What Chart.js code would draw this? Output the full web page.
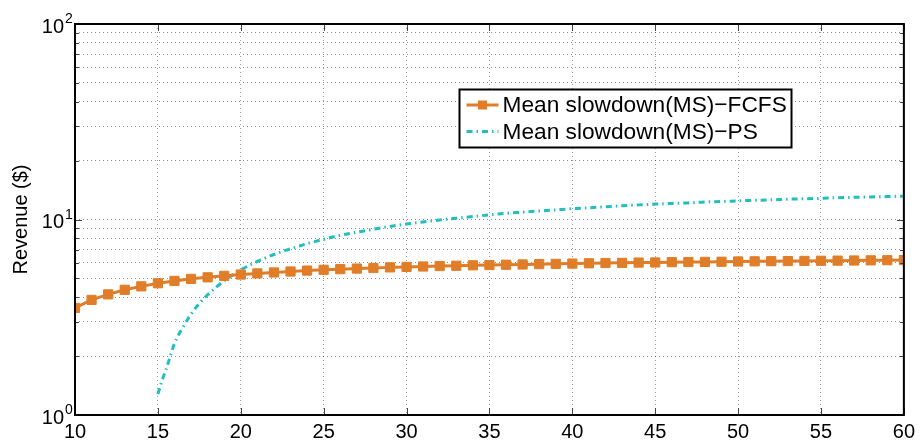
<!DOCTYPE html>
<html>
<head>
<meta charset="utf-8">
<script src="https://cdn.jsdelivr.net/npm/chart.js@4.4.0/dist/chart.umd.min.js"></script>
<style>
  html, body { margin: 0; padding: 0; background: #fff; }
  #wrap { width: 920px; height: 446px; }
</style>
</head>
<body>
<div id="wrap"><canvas id="revenueChart" width="920" height="446"></canvas></div>
<script>
// x 값 (10 ~ 60)
const loadValues = [10, 11, 12, 13, 14, 15, 16, 17, 18, 19, 20, 21, 22, 23, 24, 25, 26, 27, 28, 29, 30,
  31, 32, 33, 34, 35, 36, 37, 38, 39, 40, 41, 42, 43, 44, 45, 46, 47, 48, 49, 50,
  51, 52, 53, 54, 55, 56, 57, 58, 59, 60];
// FCFS 값
const fcfsValues = [3.53, 3.88, 4.14, 4.37, 4.55, 4.72, 4.85, 4.97, 5.06, 5.15, 5.23, 5.30, 5.36, 5.42, 5.48,
  5.53, 5.57, 5.61, 5.65, 5.69, 5.72, 5.75, 5.78, 5.80, 5.83, 5.85, 5.87, 5.89, 5.91, 5.93, 5.95,
  5.97, 5.99, 6.00, 6.02, 6.03, 6.05, 6.06, 6.07, 6.08, 6.10, 6.11, 6.12, 6.13, 6.14, 6.15,
  6.16, 6.17, 6.18, 6.19, 6.20];
// PS 값 (15부터 시작)
const psLoad = [15, 15.25, 15.5, 15.75, 16, 16.5, 17, 17.5, 18, 18.5, 19, 19.5, 20, 21, 22, 23, 24, 25,
  26, 27, 28, 29, 30, 31, 32, 33, 34, 35, 36, 37, 38, 39, 40, 41, 42, 43, 44, 45, 46, 47, 48, 49, 50,
  51, 52, 53, 54, 55, 56, 57, 58, 59, 60];
const psValues = [1.28, 1.50, 1.72, 2.00, 2.32, 2.80, 3.28, 3.72, 4.12, 4.50, 4.86, 5.20, 5.53, 6.10, 6.62,
  7.08, 7.52, 7.92, 8.30, 8.61, 8.92, 9.22, 9.48, 9.72, 9.93, 10.16, 10.35, 10.56, 10.76, 10.90,
  11.05, 11.20, 11.36, 11.48, 11.62, 11.75, 11.88, 11.99, 12.09, 12.16, 12.30, 12.36, 12.46,
  12.53, 12.61, 12.70, 12.77, 12.83, 12.93, 12.98, 13.04, 13.10, 13.16];
const yTickValues = [1, 2, 3, 4, 5, 6, 7, 8, 9, 10, 20, 30, 40, 50, 60, 70, 80, 90, 100];
const yMajorValues = [1, 10, 100];
const yExponents = ['0', '1', '2'];
const seriesLabels = ['Mean slowdown(MS)\u2212FCFS', 'Mean slowdown(MS)\u2212PS'];

const FONT = '"Liberation Sans", Arial, Helvetica, sans-serif';
const ORANGE = '#E07D28';
const CYAN = '#22BEBE';

// 테두리, 안쪽 눈금, y축 라벨, 범례 그리기
const framePlugin = {
  id: 'framePlugin',
  afterDraw(chart) {
    const ctx = chart.ctx;
    const area = chart.chartArea;
    const xScale = chart.scales.x;
    const yScale = chart.scales.y;
    ctx.save();

    // 안쪽 눈금
    ctx.strokeStyle = '#444';
    ctx.lineWidth = 1;
    ctx.beginPath();
    xScale.ticks.forEach(t => {
      const px = Math.round(xScale.getPixelForValue(t.value)) + 0.5;
      ctx.moveTo(px, area.bottom); ctx.lineTo(px, area.bottom - 7);
      ctx.moveTo(px, area.top); ctx.lineTo(px, area.top + 7);
    });
    yScale.ticks.forEach(t => {
      const py = Math.round(yScale.getPixelForValue(t.value)) + 0.5;
      const len = yMajorValues.includes(t.value) ? 7 : 4;
      ctx.moveTo(area.left, py); ctx.lineTo(area.left + len, py);
      ctx.moveTo(area.right, py); ctx.lineTo(area.right - len, py);
    });
    ctx.stroke();

    // 박스
    ctx.strokeStyle = '#000';
    ctx.lineWidth = 2;
    ctx.strokeRect(area.left, area.top, area.right - area.left, area.bottom - area.top);

    // y축 라벨 10^n
    ctx.fillStyle = '#000';
    yMajorValues.forEach((v, i) => {
      const py = yScale.getPixelForValue(v);
      ctx.font = '20px ' + FONT;
      ctx.textAlign = 'right';
      ctx.textBaseline = 'alphabetic';
      ctx.fillText('10', area.left - 11, py + 8.5);
      ctx.font = '14px ' + FONT;
      ctx.textAlign = 'left';
      ctx.fillText(yExponents[i], area.left - 10, py - 1);
    });

    // 범례
    const lx = area.left + 384.5;
    const ly = area.top + 65.5;
    const lw = 332;
    const lh = 58;
    ctx.fillStyle = '#fff';
    ctx.fillRect(lx, ly, lw, lh);
    ctx.strokeStyle = '#000';
    ctx.lineWidth = 2;
    ctx.strokeRect(lx, ly, lw, lh);
    const rows = [ly + 15.5, ly + 42];
    chart.data.datasets.forEach((ds, i) => {
      const ry = rows[i];
      ctx.save();
      ctx.strokeStyle = ds.borderColor;
      ctx.lineWidth = 3;
      ctx.setLineDash(ds.borderDash || []);
      ctx.beginPath();
      ctx.moveTo(lx + 7, ry);
      ctx.lineTo(lx + 39, ry);
      ctx.stroke();
      ctx.restore();
      if (ds.pointRadius > 0) {
        ctx.fillStyle = ds.borderColor;
        ctx.fillRect(lx + 23 - 4.5, ry - 4.5, 9, 9);
      }
      ctx.fillStyle = '#000';
      ctx.font = '22.7px ' + FONT;
      ctx.textAlign = 'left';
      ctx.textBaseline = 'middle';
      ctx.fillText(ds.label, lx + 43, ry + 1);
    });

    ctx.restore();
  }
};

document.addEventListener("DOMContentLoaded", function () {
  const ctx = document.getElementById("revenueChart").getContext("2d");
  new Chart(ctx, {
    type: 'line',
    data: {
      datasets: [
        {
          label: seriesLabels[0],
          data: loadValues.map((x, i) => ({ x: x, y: fcfsValues[i] })),
          borderColor: ORANGE,
          backgroundColor: ORANGE,
          borderWidth: 3,
          pointStyle: 'rect',
          pointRadius: 6.5,
          pointBackgroundColor: ORANGE,
          pointBorderColor: ORANGE,
          pointBorderWidth: 1,
          tension: 0
        },
        {
          label: seriesLabels[1],
          data: psLoad.map((x, i) => ({ x: x, y: psValues[i] })),
          borderColor: CYAN,
          backgroundColor: CYAN,
          borderWidth: 3,
          borderDash: [6, 4, 1.5, 4],
          pointRadius: 0,
          cubicInterpolationMode: 'monotone'
        }
      ]
    },
    options: {
      responsive: false,
      animation: false,
      devicePixelRatio: 1,
      layout: { padding: { left: 0, right: 15, top: 24, bottom: 0 } },
      plugins: {
        legend: { display: false },
        tooltip: { enabled: false }
      },
      scales: {
        x: {
          type: 'linear',
          min: 10,
          max: 60,
          ticks: {
            stepSize: 5,
            color: '#000',
            font: { family: FONT, size: 20 },
            padding: 5,
            maxRotation: 0
          },
          grid: { color: 'rgba(0,0,0,0.38)', lineWidth: 1, drawTicks: false },
          border: { display: false, dash: [1, 3] },
          afterFit(scale) { scale.height = 31; }
        },
        y: {
          type: 'logarithmic',
          min: 1,
          max: 100,
          afterBuildTicks(scale) {
            scale.ticks = yTickValues.map(v => ({ value: v, major: yMajorValues.includes(v) }));
          },
          ticks: { display: false },
          grid: { color: 'rgba(0,0,0,0.45)', lineWidth: 1, drawTicks: false },
          border: { display: false, dash: [1, 3] },
          title: {
            display: true,
            text: 'Revenue ($)',
            color: '#000',
            font: { family: FONT, size: 20 },
            padding: { top: 9, bottom: 0 }
          },
          afterFit(scale) { scale.width = 75; }
        }
      }
    },
    plugins: [framePlugin]
  });
});
</script>
</body>
</html>
